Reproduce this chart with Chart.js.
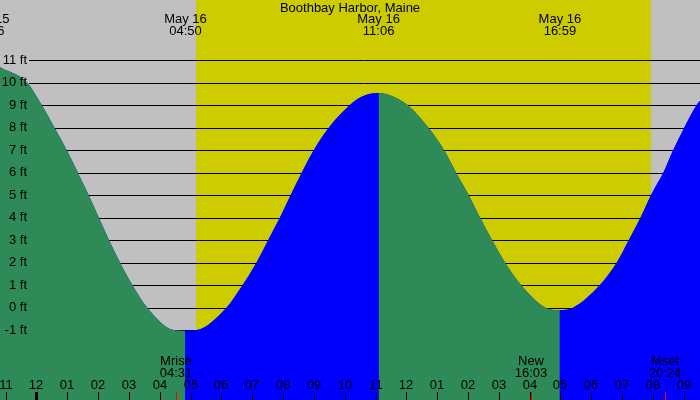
<!DOCTYPE html>
<html>
<head>
<meta charset="utf-8">
<script src="https://cdn.jsdelivr.net/npm/chart.js@4/dist/chart.umd.min.js"></script>
<style>
  body { margin: 0; background: #fff; }
  #wrap { width: 700px; height: 400px; }
</style>
</head>
<body>
<div id="wrap"><canvas id="tide" width="700" height="400"></canvas></div>
<script>
// Hauteur de marée (heures depuis minuit le 16 mai, pieds)
const tideHours = [-1.19, -0.31, 0.17, 0.58, 0.98, 1.34, 1.69, 2.02, 2.35, 2.71, 3.11, 3.59, 4.44, 4.83,
    5.21, 6.17, 6.69, 7.14, 7.52, 7.90, 8.25, 8.61, 9.00, 9.49, 10.17, 10.55, 11.10,
    11.58, 12.04, 12.71, 13.22, 13.61, 14.02, 14.39, 14.78, 15.20, 15.72, 16.50, 16.98,
    17.42, 18.28, 18.83, 19.22, 19.60, 19.94, 20.34, 20.66, 21.02, 21.42, 21.53];
const tideFeet = [10.68, 10, 9, 8, 7, 6, 5, 4, 3, 2, 1, 0, -1, -1.03,
    -1, 0, 1, 2, 3, 4, 5, 6, 7, 8, 9, 9.37, 9.53,
    9.37, 9, 8, 7, 6, 5, 4, 3, 2, 1, 0, -0.12,
    0, 1, 2, 3, 4, 5, 6, 7, 8, 9, 9.19];

// Pleines et basses mers (étiquettes du haut)
const extremeHours = [-1.567, 4.833, 11.1, 16.983];
const extremeDays = ["May 15", "May 16", "May 16", "May 16"];
const extremeTimes = ["22:26", "04:50", "11:06", "16:59"];

// Lever / coucher du soleil
const sunrise = 5.18;
const sunset = 19.94;

// Lune
const moonHours = [4.517, 16.05, 20.4];
const moonNames = ["Mrise", "New", "Mset"];
const moonTimes = ["04:31", "16:03", "20:24"];

// Axe des heures
const hourTicks = [-1, 0, 1, 2, 3, 4, 5, 6, 7, 8, 9, 10, 11, 12, 13, 14, 15, 16, 17, 18, 19, 20, 21];
const hourLabels = ["11", "12", "01", "02", "03", "04", "05", "06", "07", "08", "09", "10",
    "11", "12", "01", "02", "03", "04", "05", "06", "07", "08", "09"];

// Lignes de hauteur
const feetTicks = [-1, 0, 1, 2, 3, 4, 5, 6, 7, 8, 9, 10, 11];

const title = "Boothbay Harbor, Maine";

const GREEN = "#2E8B57";
const BLUE = "#0000FF";
const GREY = "#C0C0C0";
const YELLOW = "#CCCC00";
const FONT = "13px 'Liberation Sans', Arial, sans-serif";

const points = tideHours.map((h, i) => ({ x: h, y: tideFeet[i] }));

// Fond : nuit / jour, puis lignes horizontales
const backgroundPlugin = {
    id: "tideBackground",
    beforeDatasetsDraw(chart) {
        const ctx = chart.ctx;
        const x = chart.scales.x;
        const y = chart.scales.y;
        ctx.save();
        ctx.fillStyle = GREY;
        ctx.fillRect(0, 0, chart.width, chart.height);
        const x0 = Math.round(x.getPixelForValue(sunrise));
        const x1 = Math.round(x.getPixelForValue(sunset));
        ctx.fillStyle = YELLOW;
        ctx.fillRect(x0, 0, x1 - x0, chart.height);

        ctx.strokeStyle = "#000";
        ctx.lineWidth = 1;
        feetTicks.forEach(f => {
            const py = Math.round(y.getPixelForValue(f)) + 0.5;
            ctx.beginPath();
            ctx.moveTo(29, py);
            ctx.lineTo(chart.width, py);
            ctx.stroke();
        });
        ctx.restore();
    },
    afterDatasetsDraw(chart) {
        const ctx = chart.ctx;
        const x = chart.scales.x;
        const y = chart.scales.y;
        ctx.save();
        ctx.font = FONT;
        ctx.fillStyle = "#000";

        // Étiquettes de hauteur
        ctx.textAlign = "right";
        ctx.textBaseline = "middle";
        feetTicks.forEach(f => {
            ctx.fillText(f + " ft", 27, y.getPixelForValue(f));
        });

        // Titre
        ctx.textAlign = "center";
        ctx.fillText(title, chart.width / 2, 8);

        // Heures des marées
        extremeHours.forEach((h, i) => {
            const px = x.getPixelForValue(h);
            ctx.fillText(extremeDays[i], px, 19);
            ctx.fillText(extremeTimes[i], px, 31.5);
        });

        // Graduations des heures
        hourTicks.forEach((h, i) => {
            const px = Math.round(x.getPixelForValue(h));
            ctx.fillText(hourLabels[i], px, 385.5);
            ctx.fillRect(h === 0 ? px - 1 : px, 392, h === 0 ? 3 : 1, 8);
        });

        // Lune
        moonHours.forEach((h, i) => {
            const px = Math.round(x.getPixelForValue(h));
            ctx.fillStyle = "#000";
            ctx.fillText(moonNames[i], px, 361);
            ctx.fillText(moonTimes[i], px, 373.5);
            ctx.fillStyle = "#FF0000";
            ctx.fillRect(px, 392, 1, 8);
        });
        ctx.restore();
    }
};

new Chart(document.getElementById("tide"), {
    type: "line",
    data: {
        datasets: [{
            // descendante en vert, montante en bleu
            data: points,
            fill: "start",
            borderWidth: 0,
            pointRadius: 0,
            cubicInterpolationMode: "monotone",
            backgroundColor: GREEN,
            borderColor: GREEN,
            segment: {
                backgroundColor: c => c.p0.parsed.y > c.p1.parsed.y ? GREEN : BLUE,
                borderColor: c => c.p0.parsed.y > c.p1.parsed.y ? GREEN : BLUE
            }
        }, {
            // même courbe dessous, pour éviter les fentes entre segments
            data: points,
            fill: "start",
            borderWidth: 0,
            pointRadius: 0,
            cubicInterpolationMode: "monotone",
            backgroundColor: BLUE,
            borderColor: BLUE
        }]
    },
    options: {
        responsive: false,
        animation: false,
        layout: { padding: 0 },
        plugins: {
            legend: { display: false },
            tooltip: { enabled: false }
        },
        scales: {
            x: { type: "linear", min: -1.184, max: 21.528, display: false },
            y: { type: "linear", min: -4.111, max: 13.667, display: false }
        }
    },
    plugins: [backgroundPlugin]
});
</script>
</body>
</html>
